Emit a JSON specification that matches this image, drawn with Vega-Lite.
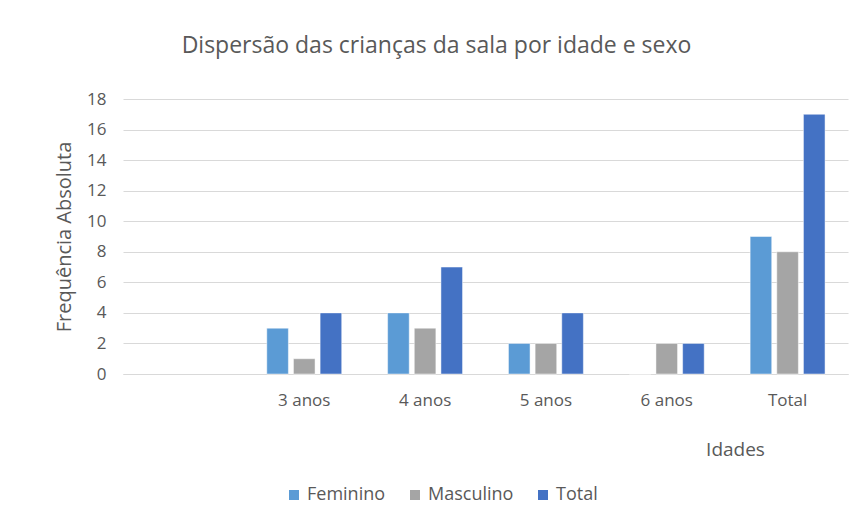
{
  "$schema": "https://vega.github.io/schema/vega-lite/v6.json",
  "autosize": "none",
  "width": 725,
  "height": 275,
  "padding": {"left": 123, "top": 99, "right": 5, "bottom": 150},
  "background": "white",
  "config": {
    "font": "Open Sans",
    "view": {"stroke": null}
  },
  "title": {
    "text": "Dispersão das crianças da sala por idade e sexo",
    "fontSize": 23,
    "fontWeight": "normal",
    "color": "#595959",
    "anchor": "middle",
    "dx": -49,
    "offset": 32
  },
  "data": {
    "values": [
      {"idade": "3 anos", "sexo": "Feminino", "freq": 3},
      {"idade": "3 anos", "sexo": "Masculino", "freq": 1},
      {"idade": "3 anos", "sexo": "Total", "freq": 4},
      {"idade": "4 anos", "sexo": "Feminino", "freq": 4},
      {"idade": "4 anos", "sexo": "Masculino", "freq": 3},
      {"idade": "4 anos", "sexo": "Total", "freq": 7},
      {"idade": "5 anos", "sexo": "Feminino", "freq": 2},
      {"idade": "5 anos", "sexo": "Masculino", "freq": 2},
      {"idade": "5 anos", "sexo": "Total", "freq": 4},
      {"idade": "6 anos", "sexo": "Feminino", "freq": 0},
      {"idade": "6 anos", "sexo": "Masculino", "freq": 2},
      {"idade": "6 anos", "sexo": "Total", "freq": 2},
      {"idade": "Total", "sexo": "Feminino", "freq": 9},
      {"idade": "Total", "sexo": "Masculino", "freq": 8},
      {"idade": "Total", "sexo": "Total", "freq": 17}
    ]
  },
  "mark": {"type": "bar", "stroke": "white", "strokeWidth": 0.8, "strokeOpacity": 0.6},
  "encoding": {
    "x": {
      "field": "idade",
      "type": "nominal",
      "sort": null,
      "scale": {"domain": [" ", "3 anos", "4 anos", "5 anos", "6 anos", "Total"], "paddingInner": 0.38, "paddingOuter": 0.19},
      "axis": {
        "title": "Idades",
        "titleFontSize": 19,
        "titleFontWeight": "normal",
        "titleColor": "#595959",
        "titleX": 612,
        "titleY": 66,
        "titleAlign": "center",
        "labelAngle": 0,
        "labelFontSize": 17,
        "labelColor": "#595959",
        "labelPadding": 18,
        "ticks": false,
        "domainColor": "#d9d9d9",
        "domainWidth": 1
      }
    },
    "xOffset": {
      "field": "sexo",
      "type": "nominal",
      "scale": {"paddingInner": 0.19, "paddingOuter": 0}
    },
    "y": {
      "field": "freq",
      "type": "quantitative",
      "scale": {"domain": [0, 18]},
      "axis": {
        "title": "Frequência Absoluta",
        "titleFontSize": 20,
        "titleFontWeight": "normal",
        "titleColor": "#595959",
        "titlePadding": 12,
        "values": [0, 2, 4, 6, 8, 10, 12, 14, 16, 18],
        "labelFontSize": 17,
        "labelColor": "#595959",
        "labelPadding": 17,
        "ticks": false,
        "domain": false,
        "gridColor": "#d9d9d9",
        "gridWidth": 1
      }
    },
    "color": {
      "field": "sexo",
      "type": "nominal",
      "scale": {"domain": ["Feminino", "Masculino", "Total"], "range": ["#5B9BD5", "#A5A5A5", "#4472C4"]},
      "legend": {
        "title": null,
        "orient": "none",
        "direction": "horizontal",
        "legendX": 162,
        "legendY": 387,
        "symbolType": "square",
        "symbolSize": 100,
        "symbolStrokeWidth": 0,
        "labelFontSize": 18,
        "labelColor": "#595959",
        "labelOffset": 4,
        "columnPadding": 20
      }
    }
  }
}
